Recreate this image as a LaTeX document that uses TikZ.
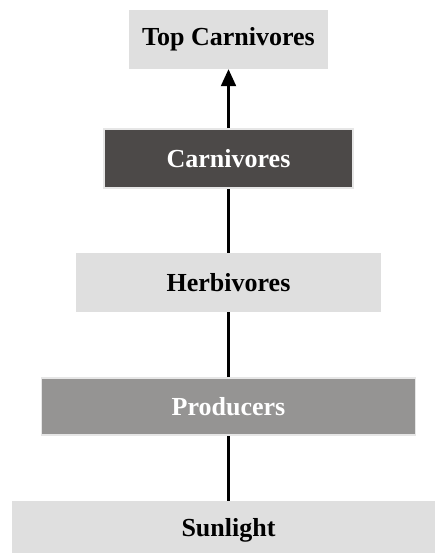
\documentclass[tikz,border=0pt]{standalone}
\usepackage{fontspec}
\setmainfont{Liberation Serif}
\usepackage{tikz}
\usetikzlibrary{arrows.meta}
\usetikzlibrary{positioning}
\definecolor{lightbox}{HTML}{DFDFDF}
\definecolor{darkbox}{HTML}{4C4948}
\definecolor{midbox}{HTML}{959493}
\definecolor{edgebox}{HTML}{E6E6E6}

\begin{document}
\begin{tikzpicture}[x=1pt,y=-1pt,
   level/.style={rectangle,minimum height=59pt,inner sep=0pt,
     font=\fontsize{26}{31}\selectfont\bfseries},
   pale/.style={level,fill=lightbox,text=black},
   dark/.style={level,fill=darkbox,draw=edgebox,line width=1.5pt,text=white},
   mid/.style={level,fill=midbox,draw=edgebox,line width=1.5pt,text=white},
   link/.style={line width=2.2pt,black}]
\useasboundingbox (0,0) rectangle (435,553);
\node[pale,minimum width=199pt] (top) at (228.5,39.5) {Top Carnivores};
\node[dark,minimum width=249pt,below=59pt of top] (carn) {Carnivores};
\node[pale,minimum width=305pt,below=64pt of carn] (herb) {Herbivores};
\node[mid,minimum width=374pt,minimum height=57pt,below=65pt of herb] (prod) {Producers};
\node[pale,minimum width=433pt,minimum height=59pt,below=65pt of prod] (sun) {Sunlight};
\draw[link,-{Triangle[length=17pt,width=15pt]}] (carn) -- (top);
\draw[link] (herb) -- (carn);
\draw[link] (prod) -- (herb);
\draw[link] (sun) -- (prod);
\end{tikzpicture}
\end{document}
